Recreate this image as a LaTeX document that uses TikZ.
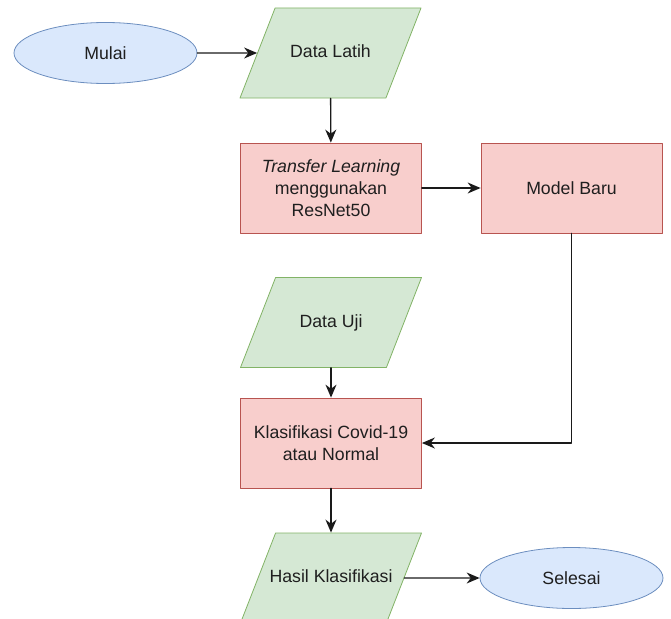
\documentclass[tikz,border=0pt]{standalone}
\usepackage{fontspec}
\setmainfont{Liberation Sans}
\usepackage{tikz}
\usetikzlibrary{shapes.geometric,arrows.meta}
\definecolor{ovalfill}{HTML}{DAE8FC}
\definecolor{ovalline}{HTML}{6C8EBF}
\definecolor{iofill}{HTML}{D5E8D4}
\definecolor{ioline}{HTML}{82B366}
\definecolor{procfill}{HTML}{F8CECC}
\definecolor{procline}{HTML}{B85450}
\definecolor{arrowline}{HTML}{1A1A1A}

\tikzset{
  terminal/.style={ellipse,draw=ovalline,fill=ovalfill,line width=0.8pt,
    inner sep=0pt,minimum width=183pt,minimum height=61pt},
  datain/.style={trapezium,trapezium left angle=68.7,trapezium right angle=111.3,
    trapezium stretches body,draw=ioline,fill=iofill,line width=0.8pt,
    inner xsep=0pt,inner ysep=36.5pt,text height=13pt,text depth=4pt,
    minimum width=181pt,minimum height=90pt},
  proses/.style={rectangle,draw=procline,fill=procfill,line width=0.8pt,
    inner sep=0pt,minimum width=181pt,minimum height=90pt,align=center},
  alur/.style={->,draw=arrowline,line width=1.4pt}
}

\begin{document}
\begin{tikzpicture}[x=1pt,y=-1pt,line cap=round,line join=round,
  >={Stealth[length=13pt,width=11pt]},
  font=\fontsize{17.7}{21.7}\selectfont,text=black!88]
\clip (0,0) rectangle (671,618);
% simbol
\node[terminal] (mulai) at (105.5,53) {Mulai};
\node[datain] (latih) at (330.5,53) {\makebox[0pt]{Data Latih}};
\node[proses] (transfer) at (331,188) {\textit{Transfer Learning}\\menggunakan\\ResNet50};
\node[proses] (baru) at (571.5,188) {Model Baru};
\node[datain] (uji) at (331,322.5) {\makebox[0pt]{Data Uji}};
\node[proses] (klasifikasi) at (331,443) {Klasifikasi Covid-19\\atau Normal};
\node[datain] (hasil) at (331,578) {\makebox[0pt]{Hasil Klasifikasi}};
\node[terminal] (selesai) at (571.5,578) {Selesai};
% alur
\draw[alur] (mulai) -- (latih);
\draw[alur] (latih) -- (transfer);
\draw[alur] (transfer) -- (baru);
\draw[alur] (baru) |- (klasifikasi);
\draw[alur] (uji) -- (klasifikasi);
\draw[alur] (klasifikasi) -- (hasil);
\draw[alur] (hasil) -- (selesai);
\end{tikzpicture}
\end{document}
